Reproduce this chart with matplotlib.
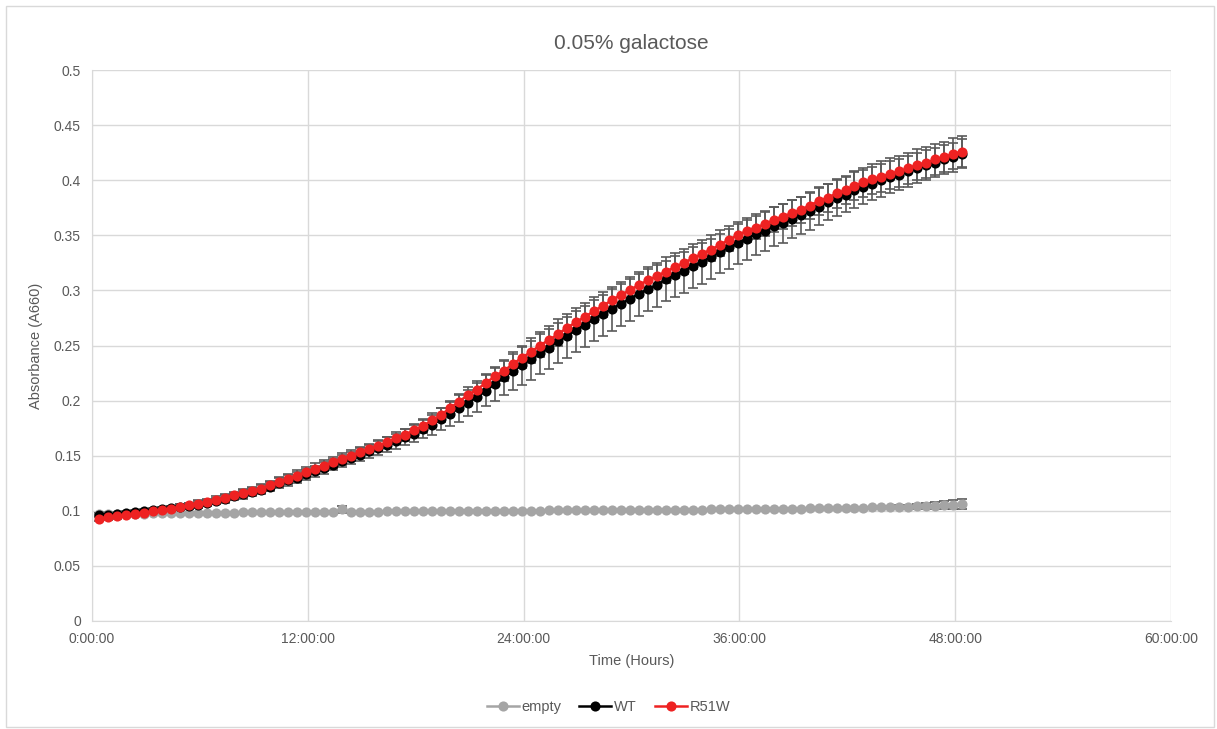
import matplotlib.pyplot as plt
import numpy as np
from matplotlib.patches import Rectangle

# time of each reading, hours (every 30 min starting at 0:24)
hours = [0.4 + 0.5 * i for i in range(97)]

empty = [
    0.0975, 0.0975, 0.0975, 0.0975, 0.0975, 0.0975, 0.0978,
    0.0978, 0.0978, 0.0980, 0.0980, 0.0980, 0.0980,
    0.0982, 0.0982, 0.0983, 0.0985, 0.0985, 0.0986,
    0.0987, 0.0987, 0.0988, 0.0989, 0.0990, 0.0990,
    0.0991, 0.0991, 0.1012, 0.0992, 0.0992, 0.0993,
    0.0993, 0.0994, 0.0994, 0.0995, 0.0995, 0.0996,
    0.0996, 0.0997, 0.0997, 0.0998, 0.0998, 0.0999,
    0.0999, 0.1000, 0.1000, 0.1000, 0.1001, 0.1002,
    0.1002, 0.1003, 0.1003, 0.1004, 0.1004, 0.1005,
    0.1005, 0.1006, 0.1006, 0.1007, 0.1007, 0.1008,
    0.1008, 0.1009, 0.1009, 0.1010, 0.1010, 0.1011,
    0.1011, 0.1012, 0.1012, 0.1013, 0.1013, 0.1014,
    0.1015, 0.1016, 0.1017, 0.1018, 0.1019, 0.1020,
    0.1021, 0.1022, 0.1023, 0.1024, 0.1025, 0.1026,
    0.1028, 0.1030, 0.1032, 0.1034, 0.1036, 0.1038,
    0.1040, 0.1043, 0.1046, 0.1050, 0.1055, 0.1062,
]
empty_err = [
    0.0005] * 27 + [0.0035] + [0.0005] * 59 + [
    0.0010, 0.0012, 0.0015, 0.0018, 0.0020, 0.0025, 0.0030, 0.0035, 0.0040, 0.0045]

wt = [
    0.0960, 0.0965, 0.0970, 0.0980, 0.0985, 0.0995, 0.1005,
    0.1015, 0.1025, 0.1035, 0.1045, 0.1055, 0.1070,
    0.109, 0.111, 0.113, 0.115, 0.117, 0.119,
    0.122, 0.125, 0.1275, 0.130, 0.133, 0.136,
    0.139, 0.142, 0.145, 0.148, 0.151, 0.154,
    0.157, 0.160, 0.163, 0.167, 0.170, 0.174,
    0.178, 0.183, 0.188, 0.193, 0.198, 0.203,
    0.209, 0.215, 0.221, 0.227, 0.232, 0.238,
    0.243, 0.248, 0.254, 0.259, 0.264, 0.269,
    0.274, 0.279, 0.283, 0.288, 0.292, 0.297,
    0.301, 0.305, 0.310, 0.314, 0.318, 0.322,
    0.326, 0.330, 0.335, 0.339, 0.343, 0.347,
    0.351, 0.354, 0.358, 0.361, 0.365, 0.368,
    0.372, 0.376, 0.380, 0.384, 0.387, 0.391,
    0.394, 0.397, 0.400, 0.403, 0.405, 0.408,
    0.411, 0.414, 0.416, 0.419, 0.421, 0.424,
]
wt_err = [
    0.002, 0.002, 0.002, 0.002, 0.002, 0.002, 0.002,
    0.002, 0.002, 0.0025, 0.0025, 0.003, 0.003,
    0.003, 0.0035, 0.0035, 0.004, 0.004, 0.004,
    0.0042, 0.0044, 0.0046, 0.0048, 0.005, 0.005,
    0.0052, 0.0054, 0.0056, 0.0058, 0.006, 0.006,
    0.0063, 0.0066, 0.007, 0.0073, 0.0076, 0.008,
    0.009, 0.010, 0.011, 0.012, 0.012, 0.013,
    0.014, 0.015, 0.016, 0.017, 0.018, 0.019,
    0.019, 0.0195, 0.020, 0.020, 0.020, 0.020,
    0.020, 0.020, 0.020, 0.020, 0.020, 0.020,
    0.020, 0.020, 0.020, 0.020, 0.020, 0.020,
    0.020, 0.020, 0.0195, 0.0195, 0.019, 0.019,
    0.0187, 0.0183, 0.018, 0.0177, 0.0173, 0.017,
    0.0168, 0.0166, 0.0165, 0.0163, 0.0162, 0.016,
    0.0157, 0.0153, 0.015, 0.0147, 0.0143, 0.014,
    0.0138, 0.0137, 0.0135, 0.0133, 0.0132, 0.013,
]

r51w = [
    0.0930, 0.0940, 0.0950, 0.0960, 0.0970, 0.0980, 0.0995,
    0.1010, 0.1020, 0.1035, 0.1050, 0.1065, 0.1080,
    0.110, 0.112, 0.114, 0.116, 0.118, 0.120,
    0.123, 0.126, 0.129, 0.132, 0.135, 0.138,
    0.141, 0.144, 0.147, 0.150, 0.153, 0.156,
    0.159, 0.162, 0.166, 0.169, 0.173, 0.177,
    0.182, 0.187, 0.193, 0.199, 0.205, 0.210,
    0.216, 0.222, 0.227, 0.233, 0.239, 0.244,
    0.250, 0.255, 0.260, 0.266, 0.271, 0.276,
    0.281, 0.286, 0.291, 0.296, 0.300, 0.305,
    0.309, 0.313, 0.317, 0.321, 0.325, 0.329,
    0.333, 0.337, 0.341, 0.346, 0.350, 0.354,
    0.357, 0.360, 0.364, 0.367, 0.370, 0.373,
    0.377, 0.381, 0.384, 0.388, 0.391, 0.395,
    0.398, 0.401, 0.403, 0.406, 0.408, 0.411,
    0.414, 0.416, 0.419, 0.421, 0.424, 0.426,
]
r51w_err = [
    0.002, 0.002, 0.002, 0.002, 0.002, 0.002, 0.002,
    0.002, 0.002, 0.0025, 0.0025, 0.003, 0.003,
    0.003, 0.0035, 0.0035, 0.004, 0.004, 0.004,
    0.0042, 0.0044, 0.0046, 0.0048, 0.005, 0.005,
    0.005, 0.005, 0.005, 0.005, 0.005, 0.005,
    0.005, 0.005, 0.0055, 0.0055, 0.006, 0.006,
    0.0063, 0.0066, 0.007, 0.0073, 0.0076, 0.008,
    0.0083, 0.0086, 0.009, 0.0093, 0.0096, 0.010,
    0.010, 0.010, 0.010, 0.010, 0.010, 0.010,
    0.010, 0.010, 0.010, 0.010, 0.010, 0.010,
    0.010, 0.010, 0.010, 0.010, 0.010, 0.010,
    0.010, 0.010, 0.010, 0.010, 0.010, 0.010,
    0.0105, 0.011, 0.0113, 0.0116, 0.012, 0.012,
    0.0123, 0.0126, 0.013, 0.013, 0.013, 0.013,
    0.0133, 0.0136, 0.014, 0.014, 0.014, 0.014,
    0.014, 0.014, 0.014, 0.014, 0.014, 0.014,
]

x_ticks = [0, 12, 24, 36, 48, 60]
x_tick_labels = ["0:00:00", "12:00:00", "24:00:00", "36:00:00", "48:00:00", "60:00:00"]
y_ticks = [0, 0.05, 0.1, 0.15, 0.2, 0.25, 0.3, 0.35, 0.4, 0.45, 0.5]
y_tick_labels = ["0", "0.05", "0.1", "0.15", "0.2", "0.25", "0.3", "0.35", "0.4", "0.45", "0.5"]

text_col = "#595959"
grid_col = "#D9D9D9"

plt.rcParams["font.family"] = ["Liberation Sans", "DejaVu Sans"]

fig = plt.figure(figsize=(12.17, 7.29), dpi=100)
ax = fig.add_axes([92 / 1217, 1 - 621 / 729, (1171 - 92) / 1217, (621 - 70) / 729])

# outer chart border (Excel style)
fig.patches.append(Rectangle((6 / 1217, 2 / 729), 1208 / 1217, 721 / 729,
                             transform=fig.transFigure, fill=False,
                             edgecolor=grid_col, linewidth=1.0))

series = [
    ("empty", empty, empty_err, "#A5A5A5", 3),
    ("WT", wt, wt_err, "#000000", 4),
    ("R51W", r51w, r51w_err, "#EE2222", 5),
]

# error bars go under all markers
for name, vals, err, col, z in series:
    ax.errorbar(hours, vals, yerr=err, fmt="none", ecolor="#5A5A5A",
                elinewidth=1.2, capsize=3.8, capthick=1.2, zorder=2)

for name, vals, err, col, z in series:
    ax.plot(hours, vals, color=col, linewidth=1.8, marker="o", markersize=7.3,
            markeredgewidth=0, label=name, zorder=z)

ax.set_xlim(0, 60)
ax.set_ylim(0, 0.5)
ax.set_xticks(x_ticks)
ax.set_xticklabels(x_tick_labels)
ax.set_yticks(y_ticks)
ax.set_yticklabels(y_tick_labels)
ax.tick_params(length=0, colors=text_col, labelsize=10, pad=8)
ax.grid(True, color=grid_col, linewidth=1.0, zorder=0)
ax.set_axisbelow(True)
for side in ["top", "right"]:
    ax.spines[side].set_visible(False)
for side in ["left", "bottom"]:
    ax.spines[side].set_color(grid_col)

ax.set_title("0.05% galactose", color=text_col, fontsize=15, pad=15)
ax.set_xlabel("Time (Hours)", color=text_col, fontsize=10.5, labelpad=6)
ax.set_ylabel("Absorbance (A660)", color=text_col, fontsize=10.5, labelpad=8)

fig.legend(loc="center", bbox_to_anchor=(0.5, 1 - 707 / 729), ncol=3, frameon=False,
           fontsize=10.5, labelcolor=text_col, handlelength=2.2, columnspacing=1.2,
           handletextpad=0.2)

fig.savefig("out.png", dpi=100)
